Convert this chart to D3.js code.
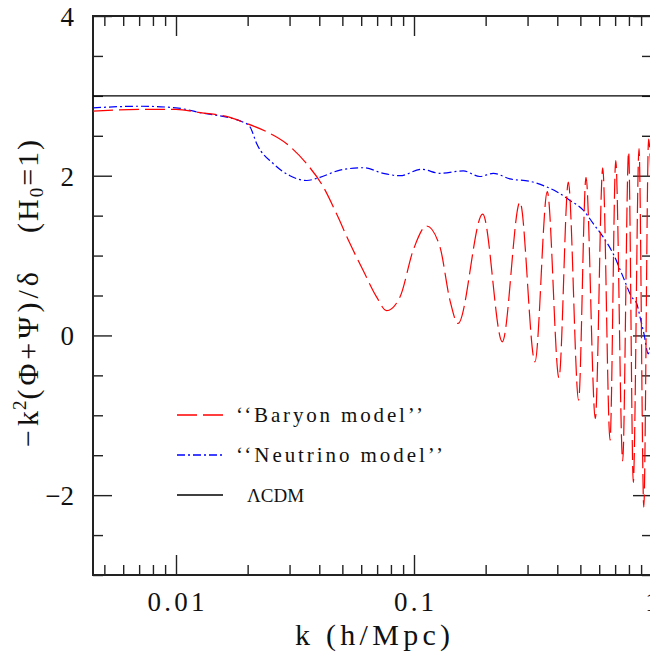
<!DOCTYPE html>
<html><head><meta charset="utf-8">
<script src="https://cdn.jsdelivr.net/npm/d3@7"></script>
<style>
body{margin:0;background:#fff}
svg{display:block}
text{font-family:"Liberation Serif","Times New Roman",serif;fill:#111}
</style></head>
<body><svg id="chart" width="650" height="656"></svg>
<script>
// ---- data ----
const baryonK = [0.00448,0.00706,0.0100,0.01262,0.01687,0.01918,0.02405,0.02917,0.03540,0.04158,0.04732,0.05383,0.06124,0.06970,0.07674,0.08730,0.09931,0.1130,0.1285,0.1416,0.1531,0.1944,0.2350,0.2787,0.3223,0.3631,0.4066,0.4450,0.4916,0.5281,0.5779,0.6209,0.6664,0.7041,0.7530,0.7975,0.8345,0.8820,0.9236,0.9677,1.0];
const baryonV = [2.81,2.83,2.83,2.79,2.73,2.67,2.55,2.40,2.15,1.86,1.52,1.15,0.81,0.48,0.31,0.48,1.07,1.37,1.11,0.44,0.15,1.52,-0.08,1.67,-0.33,1.80,-0.53,1.92,-0.81,1.98,-1.04,2.10,-1.31,2.19,-1.57,2.30,-1.84,2.34,-2.15,2.46,1.6];
const neutrinoK = [0.00448,0.00706,0.0100,0.01262,0.01918,0.02047,0.02184,0.02564,0.03012,0.03540,0.04027,0.04887,0.06124,0.07429,0.08730,0.1077,0.1285,0.1611,0.1892,0.2153,0.2531,0.3070,0.3611,0.3979,0.4522,0.5140,0.5666,0.6240,0.6877,0.7568,0.8218,0.8624,0.8907,0.9253,0.9643,0.9815];
const neutrinoV = [2.85,2.87,2.85,2.79,2.67,2.61,2.40,2.15,2.00,1.94,1.98,2.07,2.10,2.03,2.00,2.08,2.03,2.06,1.99,2.03,1.96,1.93,1.86,1.80,1.69,1.57,1.40,1.23,1.02,0.73,0.48,0.40,0.23,0.02,-0.23,-0.15];
const lcdmK = [0.00448,1.0];
const lcdmV = [3,3];
const xTickValues = [0.01,0.1,1];
const xTickLabels = ["0.01","0.1","1"];
const yTickValues = [4,2,0,-2];
const yTickLabels = ["4","2","0","\u22122"];
const legendLabels = ["\u2018\u2018Baryon model\u2019\u2019","\u2018\u2018Neutrino model\u2019\u2019","\u039bCDM"];
const xTitle = "k (h/Mpc)";

// ---- layout ----
const L=93, R=652, T=16, B=575;
const svg = d3.select("#chart");
const x = d3.scaleLog().domain([Math.pow(10,-2-83/238),1]).range([L,R]);
const y = d3.scaleLinear().domain([-3,4]).range([B,T]);

svg.append("clipPath").attr("id","pc").append("rect")
  .attr("x",L).attr("y",T).attr("width",R-L).attr("height",B-T);

// minor / major ticks
const xMinor = [];
[0.001,0.01,0.1].forEach(d=>{for(let i=2;i<=9;i++){const v=d*i; if(v>=x.domain()[0]&&v<=1) xMinor.push(v);}});
const yMinor = d3.range(-3,4.01,0.5).filter(v=>yTickValues.indexOf(v)<0);
const tickStyle = g=>{g.select(".domain").remove(); g.selectAll("line").attr("stroke","#222").attr("stroke-width",1.4); g.selectAll("text").remove();};

svg.append("g").attr("transform",`translate(0,${B})`).call(d3.axisBottom(x).tickValues(xMinor).tickSize(-10)).call(tickStyle);
svg.append("g").attr("transform",`translate(0,${B})`).call(d3.axisBottom(x).tickValues(xTickValues).tickSize(-20)).call(tickStyle);
svg.append("g").attr("transform",`translate(0,${T})`).call(d3.axisTop(x).tickValues(xMinor).tickSize(-10)).call(tickStyle);
svg.append("g").attr("transform",`translate(0,${T})`).call(d3.axisTop(x).tickValues(xTickValues).tickSize(-20)).call(tickStyle);
svg.append("g").attr("transform",`translate(${L},0)`).call(d3.axisLeft(y).tickValues(yMinor).tickSize(-10)).call(tickStyle);
svg.append("g").attr("transform",`translate(${L},0)`).call(d3.axisLeft(y).tickValues(yTickValues).tickSize(-19)).call(tickStyle);
svg.append("g").attr("transform",`translate(${R},0)`).call(d3.axisRight(y).tickValues(yMinor).tickSize(-10)).call(tickStyle);
svg.append("g").attr("transform",`translate(${R},0)`).call(d3.axisRight(y).tickValues(yTickValues).tickSize(-19)).call(tickStyle);

// frame
svg.append("rect").attr("x",L).attr("y",T).attr("width",R-L).attr("height",B-T)
  .attr("fill","none").attr("stroke","#222").attr("stroke-width",2);

// lines
const line = d3.line().x(d=>x(d[0])).y(d=>y(d[1])).curve(d3.curveMonotoneX);
const plot = svg.append("g").attr("clip-path","url(#pc)");
plot.append("path").datum(d3.zip(lcdmK,lcdmV)).attr("d",line)
  .attr("fill","none").attr("stroke","#000").attr("stroke-width",1.3);
plot.append("path").datum(d3.zip(neutrinoK,neutrinoV)).attr("d",line)
  .attr("fill","none").attr("stroke","#0000ff").attr("stroke-width",1.2).attr("stroke-dasharray","8,3,2,3");
plot.append("path").datum(d3.zip(baryonK,baryonV)).attr("d",line)
  .attr("fill","none").attr("stroke","#ff0000").attr("stroke-width",1.2).attr("stroke-dasharray","20,6");

// tick labels
const xLabW = [57,40,13];
xTickValues.forEach((v,i)=>{
  svg.append("text").attr("x",x(v)).attr("y",611).attr("text-anchor","middle")
    .attr("font-size",27).attr("textLength",xLabW[i]).attr("lengthAdjust","spacing").text(xTickLabels[i]);
});
yTickValues.forEach((v,i)=>{
  svg.append("text").attr("x",74).attr("y",y(v)+10).attr("text-anchor","end")
    .attr("font-size",27).text(yTickLabels[i]);
});

// axis titles
svg.append("text").attr("x",(L+R)/2).attr("y",645).attr("text-anchor","middle")
  .attr("font-size",30).attr("textLength",155).attr("lengthAdjust","spacing").text(xTitle);

const ty = svg.append("text").attr("transform","translate(38,447) rotate(-90)")
  .attr("font-size",30).attr("letter-spacing",4);
ty.append("tspan").text("\u2212k");
ty.append("tspan").attr("font-size",19).attr("dy",-12).attr("dx",-3).attr("letter-spacing",1).text("2");
ty.append("tspan").attr("dy",12).text("(\u03a6+\u03a8)/\u03b4");
const ty2 = svg.append("text").attr("transform","translate(38,233) rotate(-90)")
  .attr("font-size",30).attr("letter-spacing",2);
ty2.append("tspan").text("(H");
ty2.append("tspan").attr("font-size",19).attr("dy",5).text("0");
ty2.append("tspan").attr("dy",-5).text("=1)");

// legend
const legY = [415,455,495];
const legStyles = [["#ff0000","20,6"],["#0000ff","8,3,2,3"],["#000",null]];
const legTX = [236,236,247];
const legTW = [187,207,null];
legendLabels.forEach((t,i)=>{
  const ln = svg.append("line").attr("x1",177).attr("x2",223).attr("y1",legY[i]).attr("y2",legY[i])
    .attr("stroke",legStyles[i][0]).attr("stroke-width",1.3);
  if(legStyles[i][1]) ln.attr("stroke-dasharray",legStyles[i][1]);
  const tx = svg.append("text").attr("x",legTX[i]).attr("y",legY[i]+7).attr("font-size",i===2?19:21).text(t);
  if(legTW[i]) tx.attr("textLength",legTW[i]).attr("lengthAdjust","spacing");
});
</script></body></html>
